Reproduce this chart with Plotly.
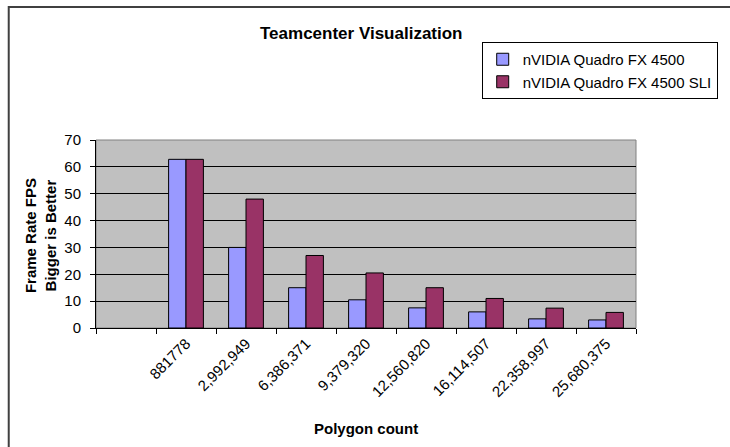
import plotly.graph_objects as go

categories = ["881778", "2,992,949", "6,386,371", "9,379,320", "12,560,820",
              "16,114,507", "22,358,997", "25,680,375"]
fx4500 = [62.8, 30, 15, 10.5, 7.5, 6, 3.4, 3.0]
fx4500_sli = [62.8, 48, 27, 20.5, 15, 11, 7.4, 5.8]
series_names = ["nVIDIA Quadro FX 4500", "nVIDIA Quadro FX 4500 SLI"]
y_ticks = [0, 10, 20, 30, 40, 50, 60, 70]

FONT = "Liberation Sans, Arial, sans-serif"

fig = go.Figure()
fig.add_trace(go.Bar(x=categories, y=fx4500, name=series_names[0],
                     marker=dict(color="#9999FF", line=dict(color="#000000", width=1))))
fig.add_trace(go.Bar(x=categories, y=fx4500_sli, name=series_names[1],
                     marker=dict(color="#993366", line=dict(color="#000000", width=1))))

W, H = 730, 447
L, R, T, B = 96, 656, 140, 328
pw, ph = R - L, B - T

def px(x):
    return (x - L) / pw

def py(y):
    return (B - y) / ph

fig.update_layout(
    width=W, height=H,
    margin=dict(l=L, r=W - R, t=T, b=H - B, pad=0),
    paper_bgcolor="white",
    plot_bgcolor="#C0C0C0",
    font=dict(family=FONT, size=15, color="black"),
    barmode="group", bargap=0.42, bargroupgap=0,
    showlegend=True,
    legend=dict(x=px(496), y=py(42), xanchor="left", yanchor="top",
                bordercolor="black", borderwidth=1, bgcolor="white",
                font=dict(family=FONT, size=15), tracegroupgap=0,
                itemwidth=30),
    xaxis=dict(type="category", categoryorder="array",
               categoryarray=[" "] + categories,
               range=[-0.5, len(categories) + 0.5],
               tickson="boundaries", ticks="outside", ticklen=5, tickcolor="black",
               tickangle=-45, tickfont=dict(family=FONT, size=15),
               showline=True, linecolor="black", linewidth=1, showgrid=False,
               zeroline=False),
    yaxis=dict(range=[0, 70], tickvals=y_ticks, ticks="outside", ticklen=5,
               tickcolor="black", tickfont=dict(family=FONT, size=15),
               showgrid=True, gridcolor="black", gridwidth=1,
               showline=True, linecolor="black", linewidth=1, zeroline=False,
               ticklabelstandoff=6),
    shapes=[
        dict(type="rect", xref="paper", yref="paper", x0=0, x1=1, y0=0, y1=1,
             line=dict(color="#808080", width=1), layer="below"),
        dict(type="rect", xref="paper", yref="paper",
             x0=px(5.5), x1=px(760), y0=py(7), y1=py(480),
             line=dict(color="#404040", width=2)),
    ],
    annotations=[
        dict(text="<b>Teamcenter Visualization</b>", xref="paper", yref="paper",
             x=px(371), y=py(33), showarrow=False, xanchor="center", yanchor="middle",
             font=dict(family=FONT, size=17)),
        dict(text="<b>Polygon count</b>", xref="paper", yref="paper",
             x=px(376), y=py(428), showarrow=False, xanchor="center", yanchor="middle",
             font=dict(family=FONT, size=15)),
        dict(text="<b>Frame Rate FPS<br>Bigger is Better</b>", xref="paper", yref="paper",
             x=px(38), y=py(236), showarrow=False, xanchor="center", yanchor="middle",
             textangle=-90, font=dict(family=FONT, size=15)),
    ],
)

fig.write_html("out.html", config=dict(displayModeBar=False),
               post_script="document.body.style.margin='0';document.body.style.overflow='hidden';")
